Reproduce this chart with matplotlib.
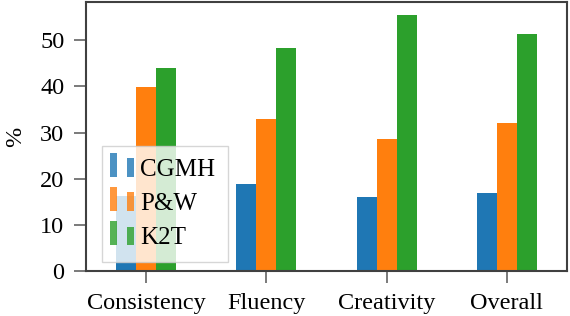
import matplotlib
matplotlib.use("Agg")
import matplotlib.pyplot as plt
import numpy as np
from matplotlib.legend_handler import HandlerBase
from matplotlib.patches import Rectangle

categories = ["Consistency", "Fluency", "Creativity", "Overall"]
series = ["CGMH", "P&W", "K2T"]
cgmh = [16.3, 18.8, 16.0, 16.9]
pw = [39.9, 33.0, 28.6, 32.0]
k2t = [43.9, 48.4, 55.5, 51.3]
colors = ["#1f77b4", "#ff7f0e", "#2ca02c"]

plt.rcParams['font.family'] = ['Liberation Serif', 'DejaVu Serif']
plt.rcParams['font.size'] = 17.5

fig = plt.figure(figsize=(5.7, 3.16), dpi=100)
ax = fig.add_axes([86/570, 1-271/316, (567-86)/570, (271-2)/316])

x = np.arange(len(categories))
w = 0.5 / 3
values = [cgmh, pw, k2t]
containers = []
for i, (name, vals) in enumerate(zip(series, values)):
    bc = ax.bar(x + (i - 1) * w, vals, width=w, color=colors[i], label=name,
                edgecolor='none')
    containers.append(bc)

ax.set_xlim(-0.5, len(categories) - 0.5)
ax.set_ylim(0, 58.3)
ax.set_xticks(x)
ax.set_xticklabels(categories)
ax.set_yticks([0, 10, 20, 30, 40, 50])
ax.set_ylabel("%", labelpad=10)
for s in ax.spines.values():
    s.set_color("#404040")
    s.set_linewidth(1.5)
ax.tick_params(axis='both', colors='#707070', labelcolor='black',
               length=8.6, width=1.3, pad=7)


class TwoBarHandler(HandlerBase):
    def __init__(self, color):
        super().__init__()
        self.color = color

    def create_artists(self, legend, orig_handle, xdescent, ydescent, width,
                       height, fontsize, trans):
        c = self.color
        x0 = -xdescent
        y0 = -ydescent - height * 0.05
        r1 = Rectangle((x0 - 0.21 * width, y0), 0.335 * width, height * 1.37,
                       facecolor=c, edgecolor='none', transform=trans, alpha=0.8)
        r2 = Rectangle((x0 + 0.625 * width, y0), 0.38 * width, height * 1.05,
                       facecolor=c, edgecolor='none', transform=trans, alpha=0.8)
        return [r1, r2]


hmap = {bc: TwoBarHandler(colors[i]) for i, bc in enumerate(containers)}
leg = ax.legend(containers, series, loc='lower left', handler_map=hmap,
                fontsize=18, framealpha=0.8, fancybox=False, edgecolor='#cccccc',
                bbox_to_anchor=(0.0326, 0.0346), borderaxespad=0,
                handlelength=0.8, handletextpad=0.23, labelspacing=0.47,
                borderpad=0.5)
leg.get_frame().set_linewidth(1.0)

fig.savefig("out.png", dpi=100)
